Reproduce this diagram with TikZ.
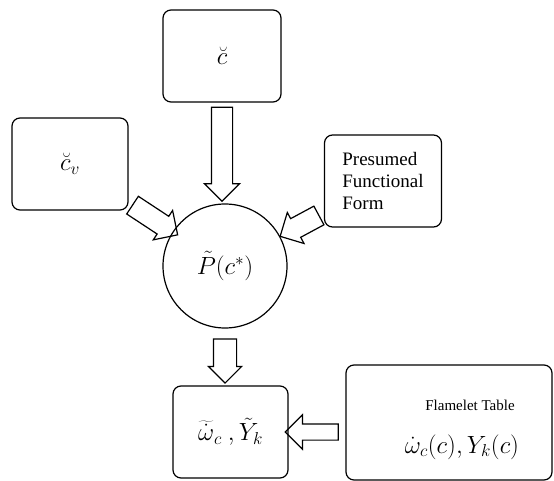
\documentclass[tikz,border=0pt]{standalone}
\usepackage{fontspec}
\setmainfont{Liberation Serif}
\usetikzlibrary{shapes.arrows}

\begin{document}
\begin{tikzpicture}[x=1pt, y=-1pt,
  box/.style={draw, rounded corners=8pt, line width=1.2pt, inner sep=0pt, minimum height=92pt},
  hollow arrow/.style={single arrow, draw, line width=1.2pt, inner xsep=0pt, inner ysep=10pt, single arrow head extend=7pt, single arrow tip angle=90, sloped, allow upside down},
  big math/.style={font=\fontsize{24}{28}\selectfont}]
  \useasboundingbox (0,0) rectangle (554,481);
  \clip (0,0) rectangle (554,481);

  % entrees
  \node[box, big math, minimum width=118pt] (cbreve) at (222,56) {$\breve{c}$};
  \node[box, big math, minimum width=116pt] (cvar) at (70,164) {$\breve{c}_v$};
  \node[box, minimum width=117pt, align=left, font=\fontsize{19}{21.7}\selectfont] (pff) at (383,181) {Presumed\\Functional\\Form};

  % PDF presumee
  \node[circle, draw, line width=1.2pt, minimum size=124pt, inner sep=0pt, big math] (pdf) at (225,266) {$\tilde{P}(c^*)$};

  % sortie et table
  \node[box, big math, minimum width=115pt] (src) at (230.5,432) {$\widetilde{\dot{\omega}}_c\ ,\tilde{Y}_k$};
  \node[box, minimum width=206pt, minimum height=115pt] (table) at (449,422.5) {};
  \node[anchor=base, font=\fontsize{15}{18}\selectfont] (tabletitle) at (470,410) {Flamelet Table};
  \node[anchor=base, font=\fontsize{23}{27}\selectfont] (tablevalues) at (462,453) {$\dot{\omega}_c(c),Y_k(c)$};

  % fleches creuses
  \path (cbreve.south) -- (cbreve.south |- pdf.north) node[hollow arrow, pos=0.46, minimum height=94pt] (arrc) {};
  \path (cvar) -- (pdf) node[hollow arrow, pos=0.5, minimum height=54pt] (arrcv) {};
  \path (pff) -- (pdf) node[hollow arrow, pos=0.45, minimum height=44pt] (arrpff) {};
  \path (pdf.south) -- (pdf.south |- src.north) node[hollow arrow, pos=0.47, minimum height=44pt, inner ysep=11pt, single arrow head extend=5pt] (arrsrc) {};
  \path (src.east -| table.west) -- (src.east) node[hollow arrow, pos=0.52, minimum height=53pt, inner ysep=7.5pt, single arrow head extend=9pt] (arrtab) {};
\end{tikzpicture}
\end{document}
